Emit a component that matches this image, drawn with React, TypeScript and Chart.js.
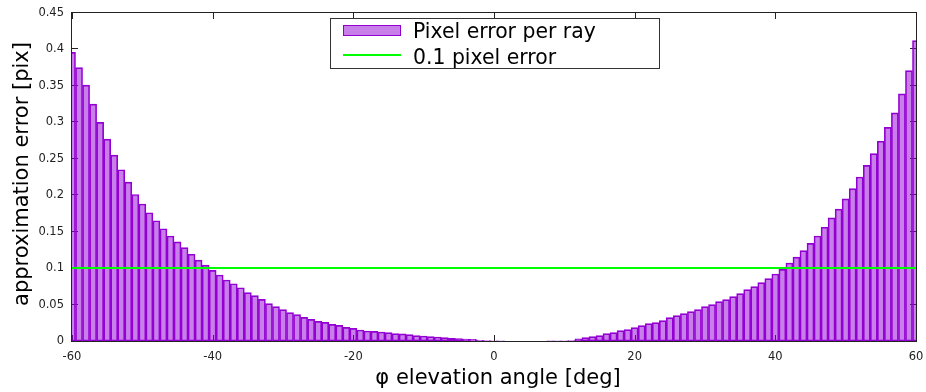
import { useEffect, useRef } from "react";
import { Chart, registerables } from "chart.js";

Chart.register(...registerables);

const angles = [
  -60, -59, -58, -57, -56, -55, -54, -53, -52, -51, -50, -49, -48, -47, -46, -45, -44, -43, -42, -41,
  -40, -39, -38, -37, -36, -35, -34, -33, -32, -31, -30, -29, -28, -27, -26, -25, -24, -23, -22, -21,
  -20, -19, -18, -17, -16, -15, -14, -13, -12, -11, -10, -9, -8, -7, -6, -5, -4, -3, -2, -1,
  0, 1, 2, 3, 4, 5, 6, 7, 8, 9, 10, 11, 12, 13, 14, 15, 16, 17, 18, 19,
  20, 21, 22, 23, 24, 25, 26, 27, 28, 29, 30, 31, 32, 33, 34, 35, 36, 37, 38, 39,
  40, 41, 42, 43, 44, 45, 46, 47, 48, 49, 50, 51, 52, 53, 54, 55, 56, 57, 58, 59, 60,
];

const pixelErrors = [
  0.396, 0.375, 0.351, 0.325, 0.3, 0.277, 0.255, 0.235, 0.218, 0.201,
  0.188, 0.176, 0.165, 0.154, 0.144, 0.136, 0.128, 0.119, 0.111, 0.104,
  0.097, 0.0905, 0.0837, 0.0786, 0.0731, 0.0663, 0.0622, 0.0572, 0.0512, 0.0471,
  0.043, 0.0389, 0.0361, 0.0325, 0.0297, 0.027, 0.0256, 0.0229, 0.0215, 0.0188,
  0.0174, 0.0151, 0.0137, 0.0132, 0.0123, 0.0114, 0.0101, 0.0098, 0.0087, 0.0073,
  0.0069, 0.006, 0.0055, 0.0046, 0.0037, 0.0032, 0.0027, 0.0023, 0.001, 0.0007,
  0.0004, 0.0002, 0, 0, 0, 0, 0, 0, 0.0001, 0.0002,
  0.0004, 0.0006, 0.003, 0.0046, 0.006, 0.0073, 0.0101, 0.0114, 0.0142, 0.0155,
  0.0183, 0.021, 0.0238, 0.0252, 0.0279, 0.032, 0.0348, 0.0375, 0.0402, 0.043,
  0.0471, 0.0498, 0.054, 0.0567, 0.0608, 0.0649, 0.0704, 0.0745, 0.08, 0.0855,
  0.0919, 0.0983, 0.107, 0.115, 0.124, 0.134, 0.144, 0.156, 0.169, 0.181,
  0.195, 0.209, 0.225, 0.241, 0.257, 0.274, 0.293, 0.313, 0.339, 0.371,
  0.412,
];

const thresholdX = [-60, 60];
const thresholdY = [0.1, 0.1];

const xLabel = "φ elevation angle [deg]";
const yLabel = "approximation error [pix]";

const FONT = "'DejaVu Sans', sans-serif";
const BAR_FILL = "rgba(148,0,211,0.5)";
const BAR_EDGE = "rgb(148,0,211)";
const LINE_COLOR = "#00ff00";
const FRAME = "#222";

const framePlugin = {
  id: "gnuplotFrame",
  beforeDatasetsDraw(chart: any) {
    const { ctx, chartArea } = chart;
    const { left, right, top, bottom } = chartArea;
    ctx.save();
    ctx.strokeStyle = FRAME;
    ctx.lineWidth = 1;
    ctx.strokeRect(left - 0.5, top - 0.5, right - left + 1, bottom - top + 1);
    const xs = chart.scales.x;
    const ys = chart.scales.y;
    const tl = 6;
    ctx.beginPath();
    xs.ticks.forEach((t: any) => {
      const px = Math.round(xs.getPixelForValue(t.value)) + 0.5;
      ctx.moveTo(px, bottom);
      ctx.lineTo(px, bottom - tl);
      ctx.moveTo(px, top);
      ctx.lineTo(px, top + tl);
    });
    ys.ticks.forEach((t: any) => {
      const py = Math.round(ys.getPixelForValue(t.value)) - 0.5;
      ctx.moveTo(left, py);
      ctx.lineTo(left + tl, py);
      ctx.moveTo(right, py);
      ctx.lineTo(right - tl, py);
    });
    ctx.stroke();
    ctx.restore();
  },
  afterDraw(chart: any) {
    const { ctx } = chart;
    ctx.save();
    // axis titles
    ctx.fillStyle = "#000";
    ctx.font = `21px ${FONT}`;
    ctx.textAlign = "center";
    ctx.textBaseline = "alphabetic";
    ctx.fillText(xLabel, 498, 384);
    ctx.save();
    ctx.translate(28, 174);
    ctx.rotate(-Math.PI / 2);
    ctx.fillText(yLabel, 0, 0);
    ctx.restore();

    // legend
    const bx = 330, by = 18, bw = 329, bh = 50;
    ctx.fillStyle = "#fff";
    ctx.fillRect(bx, by, bw, bh);
    ctx.strokeStyle = "#333";
    ctx.lineWidth = 1;
    ctx.strokeRect(bx + 0.5, by + 0.5, bw, bh);
    const ds = chart.data.datasets;
    ctx.fillStyle = BAR_FILL;
    ctx.fillRect(343, 25, 58, 11);
    ctx.strokeStyle = BAR_EDGE;
    ctx.strokeRect(343.5, 25.5, 57, 10);
    ctx.strokeStyle = LINE_COLOR;
    ctx.lineWidth = 2;
    ctx.beginPath();
    ctx.moveTo(343, 55);
    ctx.lineTo(401, 55);
    ctx.stroke();
    ctx.fillStyle = "#000";
    ctx.textAlign = "left";
    ctx.font = `20.4px ${FONT}`;
    ctx.fillText(ds[0].label, 413, 38);
    ctx.fillText(ds[1].label, 413, 64);
    ctx.restore();
  },
};

export default function App() {
  const ref = useRef<HTMLCanvasElement | null>(null);
  useEffect(() => {
    if (!ref.current) return;
    const chart = new Chart(ref.current, {
      type: "bar",
      data: {
        datasets: [
          {
            type: "bar",
            label: "Pixel error per ray",
            data: angles.map((a, i) => ({ x: a, y: pixelErrors[i] })),
            backgroundColor: BAR_FILL,
            borderColor: BAR_EDGE,
            borderWidth: 1,
            borderSkipped: false,
            barPercentage: 1,
            categoryPercentage: 1,
            clip: 0,
            order: 2,
          } as any,
          {
            type: "line",
            label: "0.1 pixel error",
            data: thresholdX.map((x, i) => ({ x, y: thresholdY[i] })),
            borderColor: LINE_COLOR,
            borderWidth: 2,
            pointRadius: 0,
            order: 1,
          } as any,
        ],
      },
      options: {
        animation: false,
        responsive: false,
        devicePixelRatio: 1,
        layout: { padding: { top: 13, right: 10, left: 0, bottom: 0 } },
        plugins: { legend: { display: false }, tooltip: { enabled: false } },
        scales: {
          x: {
            type: "linear",
            min: -60,
            max: 60,
            offset: false,
            grid: { display: false, drawTicks: false },
            border: { display: false },
            ticks: {
              stepSize: 20,
              padding: 9,
              color: "#222",
              font: { family: FONT, size: 11.5 },
              maxRotation: 0,
            },
            afterFit: (s: any) => {
              s.height = 51;
              s.paddingLeft = 0;
              s.paddingRight = 0;
            },
          },
          y: {
            type: "linear",
            min: 0,
            max: 0.45,
            grid: { display: false, drawTicks: false },
            border: { display: false },
            ticks: {
              stepSize: 0.05,
              padding: 8,
              color: "#222",
              font: { family: FONT, size: 11.5 },
              callback: (v: any) => String(Number(Number(v).toFixed(2))),
            },
            afterFit: (s: any) => {
              s.width = 72;
              s.paddingTop = 0;
              s.paddingBottom = 0;
            },
          },
        },
      } as any,
      plugins: [framePlugin],
    });
    return () => chart.destroy();
  }, []);
  return (
    <div style={{ position: "fixed", left: 0, top: 0, width: 926, height: 392, background: "#fff" }}>
      <canvas ref={ref} width={926} height={392} style={{ display: "block" }} />
    </div>
  );
}
